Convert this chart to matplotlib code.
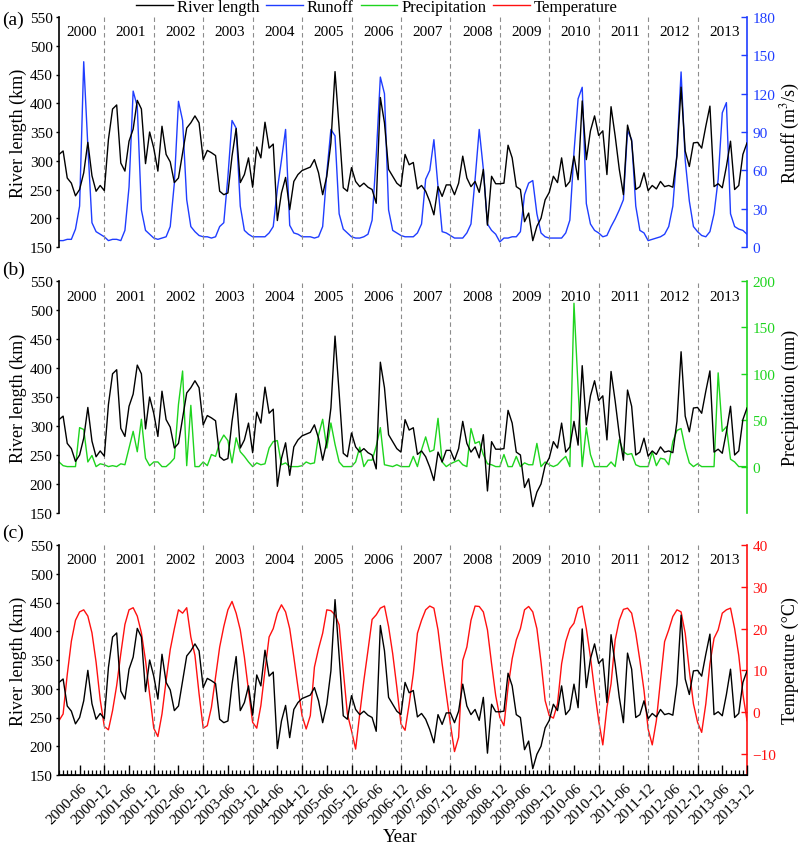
import numpy as np
import matplotlib
matplotlib.use('Agg')
import matplotlib.pyplot as plt
from matplotlib.transforms import blended_transform_factory, ScaledTranslation

plt.rcParams['font.family'] = ['Liberation Serif', 'DejaVu Serif']
plt.rcParams['mathtext.fontset'] = 'stix'

# monthly data 2000-01 .. 2013-12
years = list(range(2000, 2014))
month_labels = ['%d-%02d' % (y, m) for y in years for m in range(1, 13)]

river_length = [311, 317, 270, 261, 239, 250, 279, 332, 274, 247, 257, 248,
                337, 390, 397, 296, 282, 334, 355, 405, 390, 295, 350, 322,
                282, 360, 311, 298, 262, 270, 314, 357, 366, 378, 366, 302,
                318, 314, 309, 247, 241, 244, 308, 356, 262, 276, 305, 254,
                324, 305, 367, 322, 329, 196, 244, 271, 215, 264, 276, 283,
                286, 289, 302, 279, 241, 273, 331, 455, 357, 253, 247, 288,
                264, 255, 261, 254, 250, 226, 410, 366, 285, 273, 261, 255,
                311, 293, 297, 251, 257, 247, 229, 206, 255, 238, 258, 258,
                241, 261, 308, 270, 255, 264, 245, 285, 188, 273, 260, 260,
                261, 327, 305, 255, 250, 194, 209, 161, 186, 200, 232, 245,
                273, 262, 305, 255, 264, 308, 267, 404, 302, 352, 378, 344,
                352, 276, 394, 343, 285, 241, 362, 334, 250, 255, 279, 248,
                257, 251, 264, 255, 257, 254, 308, 428, 317, 290, 331, 332,
                322, 360, 395, 255, 260, 253, 290, 334, 250, 257, 311, 331]

runoff = [5, 5, 6, 6, 14, 32, 145, 79, 19, 12, 10, 8,
          5, 6, 6, 5, 13, 47, 122, 110, 29, 13, 10, 7,
          6, 7, 8, 16, 50, 114, 99, 37, 16, 12, 9, 8,
          8, 7, 8, 16, 19, 55, 99, 93, 32, 13, 10, 8,
          8, 8, 8, 11, 16, 45, 68, 92, 17, 11, 10, 8,
          8, 8, 7, 8, 16, 58, 92, 87, 26, 14, 11, 8,
          7, 7, 8, 10, 21, 71, 133, 120, 29, 13, 11, 9,
          8, 8, 8, 11, 18, 53, 60, 84, 47, 12, 11, 9,
          7, 7, 7, 11, 18, 53, 92, 61, 18, 13, 10, 4,
          7, 7, 8, 8, 12, 41, 50, 52, 26, 11, 8, 7,
          7, 7, 7, 11, 21, 74, 116, 125, 34, 18, 13, 11,
          8, 9, 16, 22, 29, 37, 91, 84, 32, 13, 11, 5,
          6, 7, 8, 10, 16, 32, 74, 137, 68, 36, 16, 12,
          9, 8, 12, 26, 53, 105, 113, 26, 16, 14, 13, 10]

precipitation = [5, 1, 0, 0, 0, 42, 40, 5, 12, 0, 3, 2,
                 0, 1, 0, 3, 2, 20, 38, 16, 51, 9, 1, 5,
                 5, 0, 0, 4, 9, 67, 103, 1, 66, 0, 0, 5,
                 1, 13, 11, 26, 34, 28, 4, 31, 16, 11, 5, 0,
                 4, 2, 3, 20, 27, 28, 2, 4, 0, 0, 0, 1,
                 5, 3, 4, 34, 51, 20, 47, 24, 5, 0, 0, 0,
                 5, 21, 0, 7, 7, 22, 42, 2, 1, 0, 2, 0,
                 0, 0, 11, 0, 18, 32, 16, 18, 52, 5, 0, 3,
                 5, 7, 2, 0, 41, 25, 27, 13, 3, 2, 0, 0,
                 13, 0, 0, 11, 0, 4, 2, 2, 25, 0, 5, 2,
                 0, 2, 7, 11, 0, 176, 85, 0, 42, 13, 0, 0,
                 0, 0, 5, 0, 29, 16, 13, 14, 2, 0, 0, 0,
                 16, 1, 9, 8, 2, 27, 39, 41, 20, 4, 0, 3,
                 0, 0, 0, 0, 101, 38, 43, 8, 5, 0, 0, 0]

temperature = [-2, -0.4, 9, 17, 22, 24, 24.5, 23, 19, 12, 3, -3.4,
               -4.2, 0.4, 6.4, 14, 21, 24.5, 25, 23, 19, 12.4, 4.4, -3.8,
               -5.8, -0.4, 7.6, 15, 20, 24.5, 23.7, 25, 18, 13.6, 4.4, -3.8,
               -3.2, 1.2, 8.4, 15.6, 20.5, 24.5, 26.5, 23.7, 19.7, 13.2, 5.2, -2.4,
               -3.8, 1.6, 10, 18, 20, 23.7, 25.7, 24, 20, 13.2, 6, -0.8,
               -4, -0.8, 10.8, 15.2, 18.9, 24.5, 24.3, 23.3, 20.9, 10, -0.4, -4.4,
               -8.8, -0.4, 7.6, 14.8, 22.2, 23.3, 24.9, 25.4, 20.5, 14, 6, -2.8,
               -4.3, 2, 9.2, 18.9, 22, 24.5, 25.4, 24.9, 19.7, 11.6, 4.4, -2.8,
               -9.4, -6, 12.4, 15.6, 22, 25.4, 25.3, 24, 19.7, 11.6, 4, -1.2,
               -3.2, 6, 12.8, 17.3, 20, 24.5, 25.3, 24, 20, 12, 2.8, -0.8,
               -1.4, 2, 11.6, 16.9, 20, 21.3, 24.9, 25.4, 20, 13.2, 5.2, -2,
               -7.8, 1.2, 6.8, 17.3, 22, 24.6, 24.9, 23.7, 18.9, 12.4, 5.2, -4,
               -7.8, -2, 7.6, 16.9, 19.7, 22.9, 24.5, 24, 18.9, 10, 2, -2.4,
               -4.8, 2, 11.6, 17.7, 19.7, 23.7, 24.5, 24.9, 20, 13.6, 4.4, -2]

x = np.arange(len(river_length))

BLUE = '#1f3dff'
GREEN = '#1ed41e'
RED = '#ff1010'
W, H = 800, 845


def px_axes(left, top, right, bottom):
    return [left / W, 1 - bottom / H, (right - left) / W, (bottom - top) / H]


fig = plt.figure(figsize=(8, 8.45), dpi=100)

panels = [
    # (top, bottom, series, color, label, ylim, ticks, ylabel, tag, tag y)
    (18, 248, runoff, BLUE, 'Runoff', (0, 180), range(0, 181, 30), 'Runoff (m$^{3}$/s)', '(a)', 20),
    (282, 514, precipitation, GREEN, 'Precipitation', (-50, 200), range(0, 201, 50), 'Precipitation (mm)', '(b)', 270),
    (546, 776, temperature, RED, 'Temperature', (-15, 40), range(-10, 41, 10), 'Temperature (\u00b0C)', '(c)', 533),
]

handles = []
for k, (top, bottom, series, color, name, ylim, ticks, ylabel, tag, tag_y) in enumerate(panels):
    ax = fig.add_axes(px_axes(59, top, 747, bottom))
    ax2 = ax.twinx()
    ax.set_zorder(ax2.get_zorder() + 1)
    ax.patch.set_visible(False)

    l1, = ax.plot(x, river_length, color='black', lw=1.0, label='River length')
    l2, = ax2.plot(x, series, color=color, lw=1.0, label=name)
    if k == 0:
        handles.append(l1)
    handles.append(l2)

    ax.set_xlim(0, 167)
    ax.set_ylim(150, 550)
    ax.set_yticks(range(150, 551, 50))
    ax2.set_ylim(*ylim)
    ax2.set_yticks(list(ticks))

    for a in (ax, ax2):
        a.spines['top'].set_visible(False)
    ax2.spines['left'].set_visible(False)
    ax.spines['right'].set_visible(False)
    ax2.spines['right'].set_color(color)
    ax2.spines['right'].set_linewidth(1.2)
    ax.spines['left'].set_linewidth(1.2)

    ax.tick_params(axis='y', direction='out', length=2.5, width=1.0, pad=2, labelsize=11)
    ax2.tick_params(axis='y', direction='in', length=4, width=1.0, pad=4, labelsize=11,
                    colors=color, labelcolor=color)

    # year separators and year labels
    for i in range(11, 167, 12):
        ax.axvline(i, color='#8c8c8c', lw=0.8, ls=(0, (4, 3)), zorder=0)
    tr = blended_transform_factory(ax.transData, ax.transAxes)
    for j, yr in enumerate(years):
        ax.text(j * 12 + 5.5, 0.935, str(yr), transform=tr, ha='center', va='center', fontsize=11)

    ax.text(-0.0596, 0.5, 'River length (km)', transform=ax.transAxes, rotation=90,
            ha='center', va='center', fontsize=13)
    ax.text(1.0625, 0.5, ylabel, transform=ax.transAxes, rotation=90,
            ha='center', va='center', fontsize=13)
    fig.text(2 / W, 1 - tag_y / H, tag, ha='left', va='center', fontsize=14)

    if k < 2:
        ax.spines['bottom'].set_visible(False)
        ax2.spines['bottom'].set_visible(False)
        ax.set_xticks([])
    else:
        ax.spines['bottom'].set_linewidth(1.2)
        major = list(range(5, 168, 6))
        ax.set_xticks(major)
        ax.set_xticks(list(range(0, 168)), minor=True)
        ax.set_xticklabels([month_labels[i] for i in major], rotation=45,
                           ha='right', va='top', rotation_mode='anchor', fontsize=11)
        ax.tick_params(axis='x', which='major', direction='in', length=7.5, width=1.0, pad=4)
        ax.tick_params(axis='x', which='minor', direction='in', length=3.5, width=0.9)
        ax2.tick_params(axis='x', which='both', bottom=False)
        for lab in ax.get_xticklabels():
            lab.set_transform(lab.get_transform() + ScaledTranslation(1 / 100, 0, fig.dpi_scale_trans))

fig.text(0.5, 1 - 838 / H, 'Year', ha='center', va='center', fontsize=13.5)

fig.legend(handles=handles, loc='center', bbox_to_anchor=(377 / W, 1 - 8 / H), ncol=4,
           frameon=False, fontsize=12, handlelength=2.2, handletextpad=0.25,
           columnspacing=0.4, borderpad=0, borderaxespad=0)

fig.savefig('out.png', dpi=100)
